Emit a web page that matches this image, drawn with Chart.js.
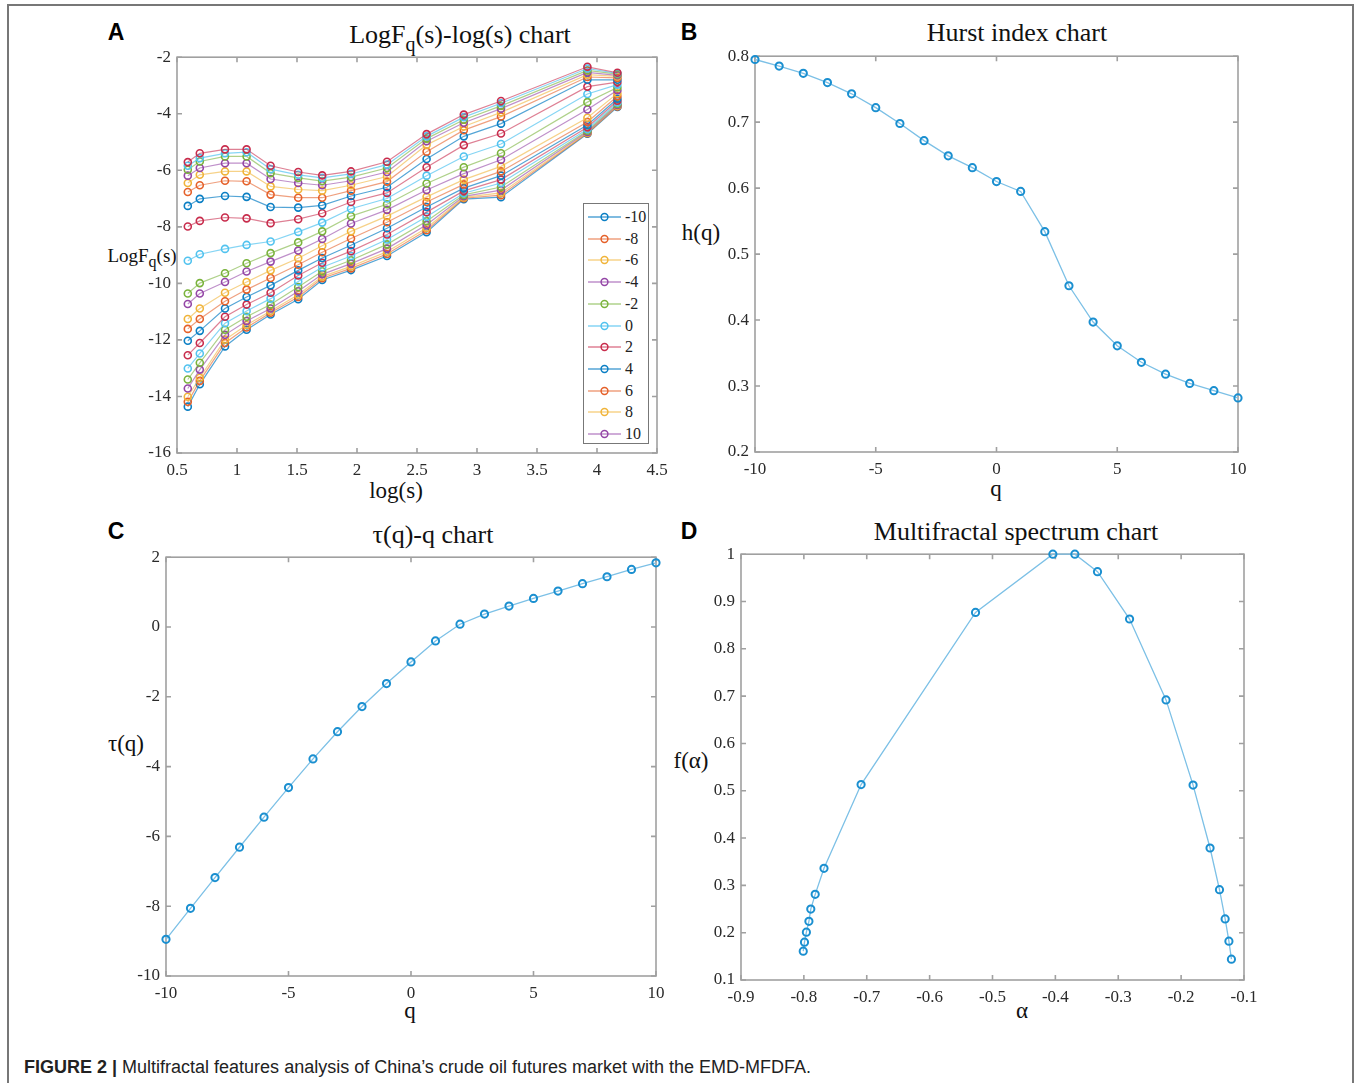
<!DOCTYPE html>
<html>
<head>
<meta charset="utf-8">
<script src="https://cdn.jsdelivr.net/npm/chart.js@4.4.1/dist/chart.umd.min.js"></script>
<style>
body { margin: 0; background: #fff; }
#page { position: relative; width: 1356px; height: 1083px; overflow: hidden; font-family: "Liberation Serif", serif; }
.frame { position: absolute; left: 7px; top: 4px; width: 1343px; height: 1100px; border: 2px solid #777; }
canvas { position: absolute; }
.t { position: absolute; transform: translate(-50%, -50%); white-space: nowrap; color: #111; line-height: 1; }
.title { font-size: 26px; }
.lab { font-size: 23px; }
.letter { font-family: "Liberation Sans", Arial, sans-serif; font-weight: bold; font-size: 23px; color: #000; }
.sub { font-size: 20px; position: relative; top: 8px; }
#legendA { position: absolute; left: 583px; top: 203px; width: 66px; height: 241px; border: 1px solid #777; background: #fff; box-sizing: border-box; }
#legendA .row { position: absolute; left: 3px; height: 16px; display: flex; align-items: center; }
#legendA .row span { font-size: 16px; color: #222; margin-left: 3px; }
#caption { position: absolute; left: 24px; top: 1057px; font-family: "Liberation Sans", Arial, sans-serif; font-size: 18px; color: #222; white-space: nowrap; }
</style>
</head>
<body>
<div id="page">
  <div class="frame"></div>

  <div class="t letter" style="left:116px;top:32px">A</div>
  <div class="t title" style="left:460px;top:35px">LogF<span class="sub">q</span>(s)-log(s) chart</div>
  <div class="t" style="left:142px;top:255px;font-size:19px">LogF<span style="font-size:16px;position:relative;top:5px">q</span>(s)</div>
  <div class="t lab" style="left:396px;top:490px">log(s)</div>

  <div class="t letter" style="left:689px;top:32px">B</div>
  <div class="t title" style="left:1017px;top:33px">Hurst index chart</div>
  <div class="t lab" style="left:701px;top:232px">h(q)</div>
  <div class="t lab" style="left:996px;top:488px">q</div>

  <div class="t letter" style="left:116px;top:531px">C</div>
  <div class="t title" style="left:433px;top:535px">τ(q)-q chart</div>
  <div class="t lab" style="left:126px;top:743px">τ(q)</div>
  <div class="t lab" style="left:410px;top:1010px">q</div>

  <div class="t letter" style="left:689px;top:531px">D</div>
  <div class="t title" style="left:1016px;top:532px">Multifractal spectrum chart</div>
  <div class="t lab" style="left:691px;top:760px">f(α)</div>
  <div class="t lab" style="left:1022px;top:1010px">α</div>

  <div id="legendA"></div>
  <div id="caption"><b>FIGURE 2 |</b> Multifractal features analysis of China’s crude oil futures market with the EMD-MFDFA.</div>
</div>

<script>
// panel A: log(s) columns and one LogFq(s) row per q
const logS = [0.59, 0.69, 0.90, 1.08, 1.28, 1.51, 1.71, 1.95, 2.25, 2.58, 2.89, 3.20, 3.92, 4.17];

const fq_m10 = [-14.36, -13.57, -12.23, -11.64, -11.10, -10.56, -9.88, -9.53, -9.03, -8.19, -7.02, -6.95, -4.71, -3.76];
const fq_m9  = [-14.19, -13.45, -12.11, -11.56, -11.04, -10.48, -9.82, -9.47, -8.96, -8.12, -6.99, -6.88, -4.69, -3.74];
const fq_m8  = [-14.01, -13.34, -11.99, -11.47, -10.98, -10.40, -9.76, -9.40, -8.88, -8.04, -6.96, -6.80, -4.67, -3.72];
const fq_m7  = [-13.72, -13.05, -11.82, -11.33, -10.89, -10.28, -9.68, -9.30, -8.77, -7.93, -6.92, -6.70, -4.64, -3.69];
const fq_m6  = [-13.40, -12.81, -11.64, -11.18, -10.75, -10.13, -9.57, -9.18, -8.62, -7.80, -6.87, -6.59, -4.60, -3.65];
const fq_m5  = [-13.01, -12.48, -11.41, -10.98, -10.54, -9.93, -9.43, -9.03, -8.45, -7.64, -6.81, -6.45, -4.55, -3.60];
const fq_m4  = [-12.54, -12.11, -11.18, -10.75, -10.33, -9.72, -9.27, -8.86, -8.27, -7.48, -6.73, -6.33, -4.48, -3.54];
const fq_m3  = [-12.03, -11.68, -10.89, -10.48, -10.07, -9.54, -9.10, -8.65, -8.05, -7.30, -6.63, -6.19, -4.40, -3.47];
const fq_m2  = [-11.61, -11.26, -10.63, -10.22, -9.81, -9.34, -8.90, -8.41, -7.84, -7.12, -6.50, -6.04, -4.29, -3.38];
const fq_m1  = [-11.26, -10.89, -10.33, -9.95, -9.54, -9.11, -8.67, -8.16, -7.62, -6.94, -6.33, -5.86, -4.14, -3.28];
const fq_0   = [-10.73, -10.36, -9.95, -9.58, -9.23, -8.84, -8.43, -7.88, -7.40, -6.70, -6.12, -5.63, -3.85, -3.17];
const fq_p1  = [-10.36, -9.99, -9.64, -9.29, -8.93, -8.55, -8.16, -7.62, -7.20, -6.47, -5.89, -5.40, -3.59, -3.07];
const fq_p2  = [-9.20, -8.97, -8.78, -8.64, -8.52, -8.18, -7.85, -7.36, -7.00, -6.19, -5.51, -5.07, -3.30, -2.97];
const fq_p3  = [-7.99, -7.79, -7.67, -7.70, -7.87, -7.73, -7.52, -7.12, -6.80, -5.89, -5.11, -4.70, -3.04, -2.88];
const fq_p4  = [-7.26, -7.01, -6.91, -6.94, -7.30, -7.32, -7.24, -6.91, -6.60, -5.60, -4.80, -4.35, -2.80, -2.80];
const fq_p5  = [-6.77, -6.53, -6.37, -6.39, -6.86, -6.97, -6.97, -6.72, -6.40, -5.34, -4.58, -4.10, -2.70, -2.73];
const fq_p6  = [-6.45, -6.16, -6.04, -6.04, -6.57, -6.68, -6.72, -6.53, -6.22, -5.10, -4.45, -3.95, -2.62, -2.68];
const fq_p7  = [-6.19, -5.92, -5.75, -5.75, -6.31, -6.45, -6.53, -6.37, -6.06, -4.97, -4.32, -3.82, -2.54, -2.64];
const fq_p8  = [-5.98, -5.69, -5.51, -5.51, -6.10, -6.27, -6.38, -6.24, -5.92, -4.88, -4.21, -3.72, -2.47, -2.60];
const fq_p9  = [-5.84, -5.57, -5.40, -5.36, -5.96, -6.16, -6.27, -6.13, -5.80, -4.80, -4.12, -3.63, -2.40, -2.57];
const fq_p10 = [-5.71, -5.40, -5.26, -5.26, -5.84, -6.06, -6.18, -6.04, -5.70, -4.72, -4.03, -3.55, -2.34, -2.55];

const fqSeries = [fq_m10, fq_m9, fq_m8, fq_m7, fq_m6, fq_m5, fq_m4, fq_m3, fq_m2, fq_m1, fq_0,
                  fq_p1, fq_p2, fq_p3, fq_p4, fq_p5, fq_p6, fq_p7, fq_p8, fq_p9, fq_p10];
const legendLabels = ['-10', '-8', '-6', '-4', '-2', '0', '2', '4', '6', '8', '10'];

// panels B, C
const qValues = [-10, -9, -8, -7, -6, -5, -4, -3, -2, -1, 0, 1, 2, 3, 4, 5, 6, 7, 8, 9, 10];
const hq = [0.795, 0.785, 0.774, 0.760, 0.743, 0.722, 0.698, 0.672, 0.649, 0.631, 0.610,
            0.595, 0.534, 0.452, 0.397, 0.361, 0.336, 0.318, 0.304, 0.293, 0.282];
const tauq = [-8.95, -8.06, -7.18, -6.31, -5.45, -4.60, -3.78, -3.00, -2.28, -1.62, -1.00,
              -0.40, 0.08, 0.37, 0.60, 0.82, 1.03, 1.24, 1.44, 1.65, 1.84];

// panel D
const alpha = [-0.801, -0.799, -0.796, -0.792, -0.789, -0.782, -0.768, -0.709, -0.527, -0.404,
               -0.369, -0.333, -0.282, -0.224, -0.181, -0.154, -0.139, -0.130, -0.124, -0.120];
const falpha = [0.161, 0.180, 0.201, 0.224, 0.250, 0.281, 0.336, 0.513, 0.877, 1.0,
                1.0, 0.963, 0.863, 0.692, 0.512, 0.379, 0.291, 0.229, 0.182, 0.144];

const matlabColors = ['#0b7fc4', '#e5612a', '#f0b43a', '#9446a6', '#7ab33c', '#52c3ef', '#c82c4c'];
const lineColorsA = ['rgba(11,127,196,0.7)', 'rgba(229,97,42,0.6)', 'rgba(240,180,58,0.6)', 'rgba(148,70,166,0.6)',
                     'rgba(122,179,60,0.6)', 'rgba(82,195,239,0.7)', 'rgba(200,44,76,0.6)'];

var boxTicks = {
  id: 'boxTicks',
  beforeDatasetsDraw: function(chart) {
    var ctx = chart.ctx, a = chart.chartArea, x = chart.scales.x, y = chart.scales.y;
    ctx.save();
    ctx.strokeStyle = '#a0a0a0';
    ctx.lineWidth = 1.6;
    ctx.strokeRect(a.left, a.top, a.right - a.left, a.bottom - a.top);
    ctx.beginPath();
    x.ticks.forEach(function(t) {
      var p = x.getPixelForValue(t.value);
      ctx.moveTo(p, a.bottom); ctx.lineTo(p, a.bottom - 5);
      ctx.moveTo(p, a.top); ctx.lineTo(p, a.top + 5);
    });
    y.ticks.forEach(function(t) {
      var p = y.getPixelForValue(t.value);
      ctx.moveTo(a.left, p); ctx.lineTo(a.left + 5, p);
      ctx.moveTo(a.right, p); ctx.lineTo(a.right - 5, p);
    });
    ctx.stroke();
    ctx.restore();
  }
};

function axis(min, max, step, pad, isX) {
  return {
    type: 'linear', min: min, max: max, bounds: 'ticks',
    grid: { display: false, drawTicks: false }, border: { display: false },
    ticks: {
      stepSize: step, autoSkip: false, maxRotation: 0, padding: pad,
      color: '#2a2a2a', font: { family: 'Liberation Serif', size: 17 },
      callback: function(v) { return String(+v.toFixed(2)); }
    },
    afterFit: function(s) { if (isX) s.height = 40; else s.width = 70; }
  };
}

function makeChart(rect, datasets, xa, ya) {
  var c = document.createElement('canvas');
  var w = rect.w + 70 + 24, h = rect.h + 12 + 40;
  c.width = w; c.height = h;
  c.style.left = (rect.l - 70) + 'px';
  c.style.top = (rect.t - 12) + 'px';
  c.style.width = w + 'px'; c.style.height = h + 'px';
  document.getElementById('page').appendChild(c);
  return new Chart(c.getContext('2d'), {
    type: 'scatter',
    data: { datasets: datasets },
    options: {
      responsive: false, animation: false, devicePixelRatio: 1,
      layout: { padding: { left: 0, top: 12, right: 24, bottom: 0 } },
      plugins: { legend: { display: false }, tooltip: { enabled: false } },
      scales: { x: xa, y: ya }
    },
    plugins: [boxTicks]
  });
}

function blueSeries(xs, ys) {
  return [{
    data: xs.map(function(x, i) { return { x: x, y: ys[i] }; }),
    showLine: true, borderColor: '#7cc0e6', borderWidth: 1.3,
    pointRadius: 3.6, pointBorderWidth: 2, pointBorderColor: '#1a8fd0',
    pointBackgroundColor: 'rgba(0,0,0,0)', clip: false
  }];
}

// A
var dsA = fqSeries.map(function(vals, i) {
  return {
    label: String(qValues[i]),
    data: logS.map(function(x, j) { return { x: x, y: vals[j] }; }),
    showLine: true, borderColor: lineColorsA[i % 7], borderWidth: 1.2,
    pointRadius: 3.5, pointBorderWidth: 1.6, pointBorderColor: matlabColors[i % 7],
    pointBackgroundColor: 'rgba(0,0,0,0)', clip: false, order: fqSeries.length - i
  };
});
var chartA = makeChart({ l: 177, t: 53, w: 480, h: 400 }, dsA,
  axis(0.5, 4.5, 0.5, 7, true), axis(-16, -2, 2, 6, false));

makeChart({ l: 755, t: 52, w: 483, h: 400 }, blueSeries(qValues, hq),
  axis(-10, 10, 5, 7, true), axis(0.2, 0.8, 0.1, 6, false));

makeChart({ l: 166, t: 553, w: 490, h: 423 }, blueSeries(qValues, tauq),
  axis(-10, 10, 5, 7, true), axis(-10, 2, 2, 6, false));

makeChart({ l: 741, t: 550, w: 503, h: 430 }, blueSeries(alpha, falpha),
  axis(-0.9, -0.1, 0.1, 7, true), axis(0.1, 1, 0.1, 6, false));

// legend of panel A, built from its first datasets (as MATLAB labels them)
var leg = document.getElementById('legendA');
legendLabels.forEach(function(lab, i) {
  var ds = chartA.data.datasets[i];
  var row = document.createElement('div');
  row.className = 'row';
  row.style.top = (5 + i * 21.7) + 'px';
  row.innerHTML = '<svg width="35" height="12"><line x1="1" y1="6" x2="34" y2="6" stroke="' + ds.borderColor +
    '" stroke-width="1.4"/><circle cx="17.5" cy="6" r="3.4" fill="none" stroke="' + ds.pointBorderColor +
    '" stroke-width="1.5"/></svg><span>' + lab + '</span>';
  leg.appendChild(row);
});
</script>
</body>
</html>
